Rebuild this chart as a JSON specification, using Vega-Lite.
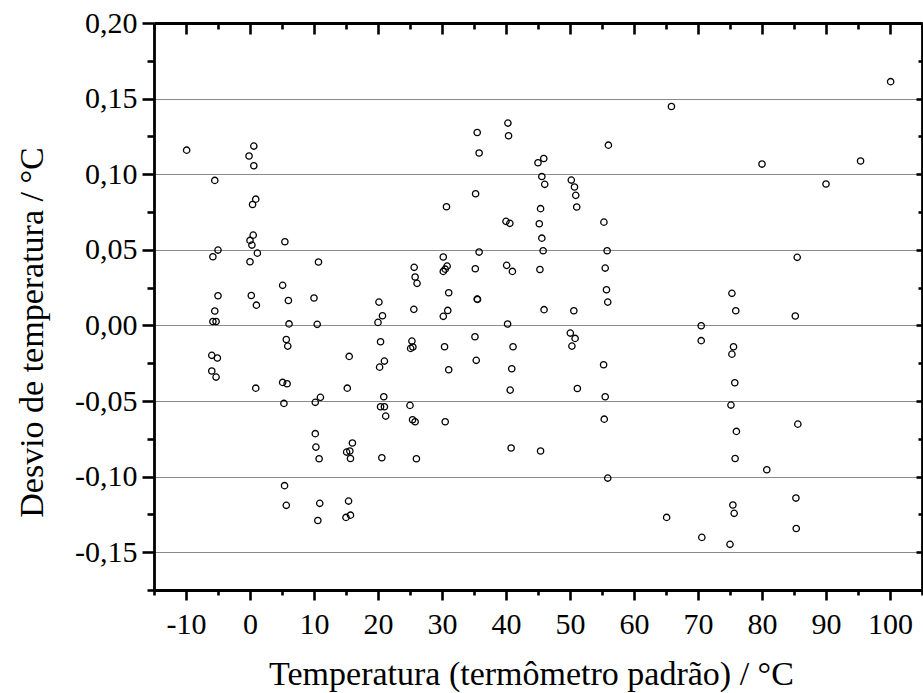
{
  "$schema": "https://vega.github.io/schema/vega-lite/v6.json",
  "width": 768,
  "height": 567,
  "autosize": {"type": "none"},
  "padding": {"left": 154, "top": 23, "right": 1, "bottom": 103},
  "background": "white",
  "config": {
    "view": {"stroke": null},
    "axis": {
      "domainColor": "black",
      "domainWidth": 2.8,
      "tickColor": "black",
      "tickWidth": 2.6,
      "labelFont": "Liberation Serif",
      "labelFontSize": 30,
      "labelColor": "black",
      "titleFont": "Liberation Serif",
      "titleFontSize": 34,
      "titleFontWeight": "normal",
      "titleColor": "black"
    }
  },
  "data": {
    "values": [
      {"t": -9.9, "d": 0.1159},
      {"t": -5.5, "d": 0.0959}, {"t": -5.0, "d": 0.0498}, {"t": -5.8, "d": 0.0454}, {"t": -5.0, "d": 0.0196}, {"t": -5.5, "d": 0.0095}, {"t": -5.8, "d": 0.0026}, {"t": -5.3, "d": 0.0026}, {"t": -5.97, "d": -0.0198}, {"t": -5.1, "d": -0.0216}, {"t": -5.97, "d": -0.0302}, {"t": -5.3, "d": -0.0342},
      {"t": 0.6, "d": 0.1186}, {"t": -0.15, "d": 0.112}, {"t": 0.6, "d": 0.1056}, {"t": 0.9, "d": 0.0835}, {"t": 0.4, "d": 0.080}, {"t": 0.5, "d": 0.0597}, {"t": 0.0, "d": 0.0562}, {"t": 0.3, "d": 0.0531}, {"t": 1.15, "d": 0.0478}, {"t": 0.0, "d": 0.0421}, {"t": 0.2, "d": 0.0198}, {"t": 1.0, "d": 0.0134}, {"t": 0.9, "d": -0.0415},
      {"t": 5.45, "d": 0.0553}, {"t": 5.1, "d": 0.0265}, {"t": 6.0, "d": 0.0165}, {"t": 6.1, "d": 0.001}, {"t": 5.67, "d": -0.0093}, {"t": 5.9, "d": -0.0137}, {"t": 5.1, "d": -0.0377}, {"t": 5.8, "d": -0.0386}, {"t": 5.3, "d": -0.0516}, {"t": 5.4, "d": -0.106}, {"t": 5.67, "d": -0.119},
      {"t": 10.7, "d": 0.0419}, {"t": 10.0, "d": 0.0181}, {"t": 10.5, "d": 0.0007}, {"t": 10.2, "d": -0.0509}, {"t": 11.0, "d": -0.0476}, {"t": 10.2, "d": -0.0716}, {"t": 10.3, "d": -0.0805}, {"t": 10.8, "d": -0.0882}, {"t": 10.9, "d": -0.1177}, {"t": 10.6, "d": -0.129},
      {"t": 15.5, "d": -0.0205}, {"t": 15.2, "d": -0.0415}, {"t": 16.0, "d": -0.0778}, {"t": 15.1, "d": -0.0838}, {"t": 15.6, "d": -0.0831}, {"t": 15.7, "d": -0.088}, {"t": 15.4, "d": -0.1162}, {"t": 15.0, "d": -0.127}, {"t": 15.7, "d": -0.1255},
      {"t": 20.15, "d": 0.0154}, {"t": 20.7, "d": 0.0064}, {"t": 20.0, "d": 0.002}, {"t": 20.4, "d": -0.0108}, {"t": 21.0, "d": -0.0236}, {"t": 20.25, "d": -0.0276}, {"t": 20.9, "d": -0.0472}, {"t": 20.4, "d": -0.0538}, {"t": 21.0, "d": -0.0538}, {"t": 21.2, "d": -0.060}, {"t": 20.6, "d": -0.0875},
      {"t": 25.65, "d": 0.0384}, {"t": 25.8, "d": 0.032}, {"t": 26.1, "d": 0.0278}, {"t": 25.6, "d": 0.0106}, {"t": 25.3, "d": -0.0104}, {"t": 25.1, "d": -0.0152}, {"t": 25.45, "d": -0.0143}, {"t": 25.0, "d": -0.0529}, {"t": 25.4, "d": -0.0624}, {"t": 25.8, "d": -0.0637}, {"t": 26.0, "d": -0.0882},
      {"t": 30.7, "d": 0.0785}, {"t": 30.2, "d": 0.0452}, {"t": 30.8, "d": 0.0392}, {"t": 30.2, "d": 0.0357}, {"t": 30.5, "d": 0.0372}, {"t": 31.05, "d": 0.0216}, {"t": 30.9, "d": 0.0099}, {"t": 30.2, "d": 0.006}, {"t": 30.4, "d": -0.0141}, {"t": 31.05, "d": -0.0293}, {"t": 30.5, "d": -0.0637},
      {"t": 35.5, "d": 0.1276}, {"t": 35.8, "d": 0.114}, {"t": 35.25, "d": 0.0871}, {"t": 35.8, "d": 0.0485}, {"t": 35.2, "d": 0.0375}, {"t": 35.5, "d": 0.0174}, {"t": 35.55, "d": 0.0172}, {"t": 35.15, "d": -0.0075}, {"t": 35.35, "d": -0.0231},
      {"t": 40.3, "d": 0.1338}, {"t": 40.4, "d": 0.1254}, {"t": 40.0, "d": 0.0688}, {"t": 40.6, "d": 0.0675}, {"t": 40.1, "d": 0.0397}, {"t": 41.0, "d": 0.0357}, {"t": 40.25, "d": 0.0009}, {"t": 41.1, "d": -0.0141}, {"t": 40.9, "d": -0.0287}, {"t": 40.65, "d": -0.0428}, {"t": 40.8, "d": -0.0811},
      {"t": 45.9, "d": 0.1104}, {"t": 45.0, "d": 0.1076}, {"t": 45.6, "d": 0.0985}, {"t": 46.05, "d": 0.0933}, {"t": 45.4, "d": 0.0772}, {"t": 45.2, "d": 0.0672}, {"t": 45.6, "d": 0.0577}, {"t": 45.8, "d": 0.0494}, {"t": 45.3, "d": 0.037}, {"t": 45.95, "d": 0.0104}, {"t": 45.4, "d": -0.0831},
      {"t": 50.2, "d": 0.0961}, {"t": 50.7, "d": 0.0915}, {"t": 50.9, "d": 0.086}, {"t": 51.05, "d": 0.0783}, {"t": 50.6, "d": 0.0097}, {"t": 50.05, "d": -0.0051}, {"t": 50.8, "d": -0.0086}, {"t": 50.3, "d": -0.0137}, {"t": 51.15, "d": -0.0417},
      {"t": 56.0, "d": 0.1192}, {"t": 55.3, "d": 0.0683}, {"t": 55.8, "d": 0.0494}, {"t": 55.5, "d": 0.0379}, {"t": 55.7, "d": 0.0236}, {"t": 55.9, "d": 0.0154}, {"t": 55.25, "d": -0.026}, {"t": 55.5, "d": -0.0472}, {"t": 55.35, "d": -0.062}, {"t": 55.9, "d": -0.101},
      {"t": 65.85, "d": 0.1448}, {"t": 65.1, "d": -0.127},
      {"t": 70.5, "d": -0.0002}, {"t": 70.5, "d": -0.0101}, {"t": 70.6, "d": -0.1402},
      {"t": 75.3, "d": 0.0212}, {"t": 75.9, "d": 0.0097}, {"t": 75.55, "d": -0.0141}, {"t": 75.3, "d": -0.019}, {"t": 75.75, "d": -0.0379}, {"t": 75.15, "d": -0.0527}, {"t": 76.0, "d": -0.0701}, {"t": 75.8, "d": -0.088}, {"t": 75.45, "d": -0.1188}, {"t": 75.65, "d": -0.1243}, {"t": 75.0, "d": -0.1448},
      {"t": 80.0, "d": 0.1067}, {"t": 80.75, "d": -0.0955},
      {"t": 85.5, "d": 0.045}, {"t": 85.2, "d": 0.0062}, {"t": 85.6, "d": -0.0653}, {"t": 85.3, "d": -0.1142}, {"t": 85.35, "d": -0.1343},
      {"t": 90.0, "d": 0.0935}, {"t": 95.4, "d": 0.1087}, {"t": 100.1, "d": 0.1612}
    ]
  },
  "resolve": {"scale": {"x": "independent", "y": "independent"}},
  "layer": [
    {
      "mark": {"type": "point", "shape": "circle", "filled": false, "stroke": "black", "strokeWidth": 1.3, "size": 40, "opacity": 1},
      "encoding": {
        "x": {
          "field": "t", "type": "quantitative",
          "scale": {"domain": [-15, 105], "nice": false, "zero": false},
          "axis": {
            "orient": "bottom",
            "values": [-15, -10, -5, 0, 5, 10, 15, 20, 25, 30, 35, 40, 45, 50, 55, 60, 65, 70, 75, 80, 85, 90, 95, 100, 105],
            "tickSize": {"condition": {"test": "datum.value % 10 === 0", "value": 10}, "value": 5},
            "labelExpr": "datum.value % 10 === 0 && datum.value > -15 && datum.value < 105 ? (datum.value < 0 ? '-' : '') + abs(datum.value) : ''",
            "labelPadding": 9,
            "labelFlush": false,
            "labelOverlap": false,
            "grid": false,
            "title": "Temperatura (termômetro padrão) / °C",
            "titleX": 377,
            "titleY": 94,
            "titleBaseline": "alphabetic",
            "titleAlign": "center"
          }
        },
        "y": {
          "field": "d", "type": "quantitative",
          "scale": {"domain": [-0.175, 0.2], "nice": false, "zero": false},
          "axis": {
            "orient": "left",
            "values": [-0.175, -0.15, -0.125, -0.1, -0.075, -0.05, -0.025, 0, 0.025, 0.05, 0.075, 0.1, 0.125, 0.15, 0.175, 0.2],
            "tickSize": {"condition": {"test": "abs(round(datum.value*40)) % 2 === 0", "value": 12}, "value": 7},
            "labelExpr": "abs(round(datum.value*40)) % 2 === 0 ? (datum.value < -0.001 ? '-' : '') + replace(format(abs(datum.value), '.2f'), '.', ',') : ''",
            "labelPadding": 5,
            "labelOverlap": false,
            "labelFlush": false,
            "grid": true,
            "gridColor": "#8a8a8a",
            "gridWidth": 1.2,
            "gridOpacity": {"condition": {"test": "abs(round(datum.value*40)) % 2 === 0 && datum.value < 0.19", "value": 1}, "value": 0},
            "title": "Desvio de temperatura / °C",
            "titleX": -112,
            "titleY": 309,
            "titleAngle": 270,
            "titleBaseline": "alphabetic",
            "titleAlign": "center"
          }
        }
      }
    },
    {
      "mark": {"type": "point", "opacity": 0},
      "encoding": {
        "x": {
          "field": "t", "type": "quantitative",
          "scale": {"domain": [-15, 105], "nice": false, "zero": false},
          "axis": {
            "orient": "top",
            "values": [-15, -10, -5, 0, 5, 10, 15, 20, 25, 30, 35, 40, 45, 50, 55, 60, 65, 70, 75, 80, 85, 90, 95, 100, 105],
            "tickSize": {"condition": {"test": "datum.value % 10 === 0", "value": -11}, "value": -6},
            "labels": false,
            "grid": false,
            "title": null
          }
        },
        "y": {
          "field": "d", "type": "quantitative",
          "scale": {"domain": [-0.175, 0.2], "nice": false, "zero": false},
          "axis": {
            "orient": "right",
            "values": [-0.175, -0.15, -0.125, -0.1, -0.075, -0.05, -0.025, 0, 0.025, 0.05, 0.075, 0.1, 0.125, 0.15, 0.175, 0.2],
            "tickSize": {"condition": {"test": "abs(round(datum.value*40)) % 2 === 0", "value": -6}, "value": -4},
            "labels": false,
            "grid": false,
            "title": null
          }
        }
      }
    }
  ]
}
